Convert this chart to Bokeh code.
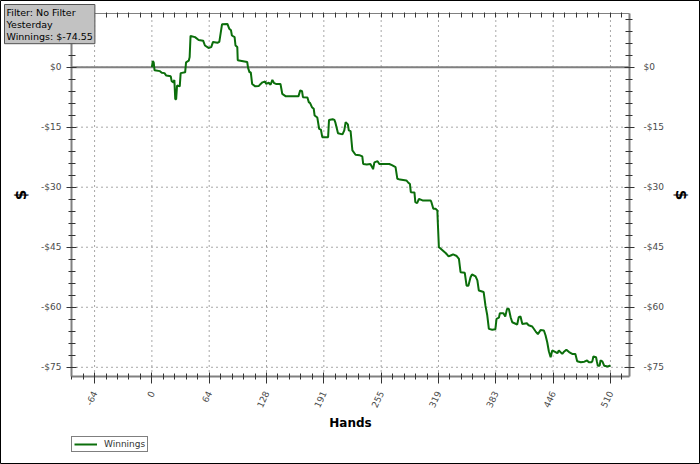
import math
from bokeh.plotting import figure
from bokeh.models import (Range1d, LinearAxis, FixedTicker, Label, Legend, LegendItem)
from bokeh.embed import file_html
from bokeh.resources import INLINE

# ---- data ----
hands = [0, 1, 2, 3, 9, 11, 14, 16, 21, 22, 24, 25, 26, 27, 28, 31, 32, 37, 38, 41,
         42, 43, 48, 52, 57, 59, 63, 66, 68, 73, 75, 78, 84, 86, 88, 89, 92, 93, 95, 95.5,
         106, 107, 108.6, 110, 111.5, 115, 119, 121, 123, 126, 127, 130, 132, 134, 136, 138, 143, 144, 145, 149,
         163, 165, 167, 168, 173, 174.5, 176, 178, 180, 181, 184, 186, 188, 189.5, 196, 197, 201, 203, 204, 207,
         212, 214, 215.5, 218, 219, 221, 223, 226.5, 231, 232, 234, 235, 239, 243, 245, 246, 247.5, 251, 253, 264,
         267, 271, 273, 276, 283, 285, 287, 288, 292, 293, 295, 297, 301, 310, 311, 313, 315.5, 317.5, 318, 319.2,
         321, 327, 330, 333, 335, 339, 341.5, 343.3, 348, 350, 352, 354.4, 356, 360, 362, 363.6, 369, 371, 373, 374.8,
         378.5, 382, 383.3, 386, 387, 391, 393, 395, 397, 399, 400.8, 406.3, 408, 410, 412, 417, 419, 423, 426.7, 429.3,
         432.3, 436, 437.8, 439.7, 441.5, 443.5, 445.3, 449, 451, 452.6, 456.4, 458, 461, 464, 467.5, 471, 473, 477, 481, 484,
         486, 489, 490, 491, 494, 495, 496, 498, 499, 501, 503, 507, 510]
winnings = [0.0, 1.5, 1.2, -0.8, -1.0, -1.4, -1.5, -2.1, -2.3, -3.5, -3.8, -3.2, -8.0, -8.0, -4.6, -4.8, -1.5, -1.3, 1.2, 1.6,
            2.5, 7.8, 7.5, 6.8, 6.6, 5.4, 4.8, 5.0, 6.3, 6.1, 6.3, 10.7, 10.8, 9.6, 9.2, 7.9, 7.5, 5.4, 5.0, 1.7,
            1.3, -0.2, -1.3, -1.3, -4.2, -4.8, -4.7, -4.2, -3.8, -3.6, -4.2, -3.9, -4.4, -3.2, -4.0, -4.2, -4.2, -5.4, -6.7, -7.3,
            -7.3, -5.8, -6.0, -7.5, -7.6, -8.75, -9.0, -10.0, -10.4, -12.1, -12.6, -15.4, -15.6, -17.5, -17.5, -13.2, -13.0, -13.2, -13.8, -16.5,
            -16.8, -15.8, -13.75, -14.3, -15.8, -16.0, -20.8, -21.9, -22.0, -22.1, -22.3, -24.2, -24.3, -24.2, -25.0, -25.5, -23.8, -23.5, -24.2, -24.2,
            -24.5, -25.0, -27.9, -28.1, -28.3, -28.8, -29.2, -31.25, -31.3, -33.75, -34.0, -32.9, -33.3, -33.3, -33.8, -35.4, -35.4, -35.8, -38.75, -45.0,
            -45.3, -46.5, -47.3, -47.0, -46.8, -47.2, -47.9, -51.25, -51.4, -54.6, -54.6, -52.5, -51.8, -52.3, -53.3, -55.8, -56.2, -59.6, -62.0, -65.4,
            -65.6, -65.5, -62.9, -62.6, -61.5, -61.5, -62.3, -60.4, -60.4, -62.5, -63.75, -64.3, -62.5, -62.3, -64.2, -64.0, -64.5, -64.8, -66.0, -66.7,
            -65.7, -65.8, -67.0, -68.75, -71.0, -72.5, -70.8, -71.2, -71.5, -70.8, -71.65, -71.2, -70.6, -71.2, -71.65, -71.7, -73.5, -73.75, -73.6, -73.3,
            -73.75, -73.75, -73.4, -72.3, -72.5, -73.6, -74.6, -74.6, -73.3, -73.5, -74.6, -74.8, -74.55]

x_tick_values = [-63.75, 0, 63.75, 127.5, 191.25, 255, 318.75, 382.5, 446.25, 510]
x_tick_labels = ["-64", "0", "64", "128", "191", "255", "319", "383", "446", "510"]
x_minor_values = [-89.25, -76.5, -51.0, -38.25, -25.5, -12.75, 12.75, 25.5, 38.25, 51.0,
                  76.5, 89.25, 102.0, 114.75, 140.25, 153.0, 165.75, 178.5, 204.0, 216.75,
                  229.5, 242.25, 267.75, 280.5, 293.25, 306.0, 331.5, 344.25, 357.0, 369.75,
                  395.25, 408.0, 420.75, 433.5, 459.0, 471.75, 484.5, 497.25, 522.75]
y_tick_values = [0, -15, -30, -45, -60, -75]
y_tick_labels = ["$0", "-$15", "-$30", "-$45", "-$60", "-$75"]
y_minor_values = [12, 9, 6, 3, -3, -6, -9, -12, -18, -21, -24, -27, -33, -36, -39, -42,
                  -48, -51, -54, -57, -63, -66, -69, -72]

info_lines = ["Filter: No Filter", "Yesterday", "Winnings: $-74.55"]
series_name = "Winnings"

# visible plot area (data units) and its pixel box on the 700x464 canvas
VIS_X = (-89.4, 531.2)
VIS_Y = (-77.3, 13.4)
W, H = 700, 464
BOX_L, BOX_R, BOX_T, BOX_B = 71, 629, 13, 376

sx = (BOX_R - BOX_L) / (VIS_X[1] - VIS_X[0])
sy = (BOX_B - BOX_T) / (VIS_Y[1] - VIS_Y[0])
x_lo = VIS_X[0] - BOX_L / sx
x_hi = VIS_X[1] + (W - BOX_R) / sx
y_hi = VIS_Y[1] + BOX_T / sy
y_lo = VIS_Y[0] - (H - BOX_B) / sy

FONT = "DejaVu Sans"
LABEL_COLOR = "#4a4a4a"

p = figure(width=W, height=H, x_range=Range1d(x_lo, x_hi), y_range=Range1d(y_lo, y_hi),
           output_backend="svg", toolbar_location=None,
           x_axis_location=None, y_axis_location=None,
           min_border=0, min_border_left=0, min_border_right=0, min_border_top=0, min_border_bottom=0,
           background_fill_color="white", border_fill_color="white")
p.outline_line_color = "black"
p.outline_line_width = 1
for g in p.grid:
    g.visible = False

xt = FixedTicker(ticks=x_tick_values, minor_ticks=x_minor_values)
yt = FixedTicker(ticks=y_tick_values, minor_ticks=y_minor_values)
x_over = {v: s for v, s in zip(x_tick_values, x_tick_labels)}
y_over = {v: s for v, s in zip(y_tick_values, y_tick_labels)}

def make_axis(ticker, loc, bounds, tick_in, tick_out, mtick_in, mtick_out, overrides=None):
    ax = LinearAxis(ticker=ticker, fixed_location=loc, bounds=bounds)
    if overrides is not None:
        ax.major_label_overrides = overrides
    ax.axis_line_color = "#808080"
    ax.axis_line_width = 2
    ax.major_tick_line_color = "#333333"
    ax.minor_tick_line_color = "#333333"
    ax.major_tick_in = tick_in
    ax.major_tick_out = tick_out
    ax.minor_tick_in = mtick_in
    ax.minor_tick_out = mtick_out
    ax.major_label_text_font = FONT
    ax.major_label_text_font_size = "9px"
    ax.major_label_text_color = LABEL_COLOR
    ax.axis_label_text_font = FONT
    ax.axis_label_text_font_style = "bold"
    ax.axis_label_text_color = "#000000"
    return ax

# dotted grid (drawn first, under everything)
nx, ny = len(x_tick_values), len(y_tick_values)
p.segment(x0=x_tick_values, x1=x_tick_values, y0=[VIS_Y[0]] * nx, y1=[VIS_Y[1]] * nx,
          line_color="#505050", line_dash="1 4", line_width=1)
p.segment(x0=[VIS_X[0]] * ny, x1=[VIS_X[1]] * ny, y0=y_tick_values, y1=y_tick_values,
          line_color="#505050", line_dash="1 4", line_width=1)
# zero line
p.segment(x0=[VIS_X[0]], x1=[VIS_X[1]], y0=[0], y1=[0], line_color="#808080", line_width=2)

r = p.line(hands, winnings, line_color="#0b6e0b", line_width=2)

# bottom axis
xa = make_axis(xt, VIS_Y[0], VIS_X, 4, 7, 3, 3, x_over)
xa.major_label_orientation = math.radians(65)
xa.major_label_standoff = 8
xa.axis_label = "Hands"
xa.axis_label_text_font_size = "12px"
xa.axis_label_standoff = 3
p.add_layout(xa, "below")

# top axis (tick marks only; labels not painted)
xtop = make_axis(xt, VIS_Y[1], VIS_X, 4, 1, 4, 1)
xtop.axis_line_width = 1
xtop.major_label_text_color = None
p.add_layout(xtop, "above")

# left axis
ya = make_axis(yt, VIS_X[0], VIS_Y, 5, 5, 4, 3, y_over)
ya.major_label_standoff = 5
ya.axis_label = "$"
ya.axis_label_text_font_size = "15px"
ya.axis_label_standoff = 8
p.add_layout(ya, "left")

# right axis
yr = make_axis(yt, VIS_X[1], VIS_Y, 5, 5, 4, 3, y_over)
yr.major_label_standoff = 9
yr.axis_label = "$"
yr.axis_label_text_font_size = "15px"
yr.axis_label_standoff = 5
p.add_layout(yr, "right")

legend = Legend(items=[LegendItem(label=series_name, renderers=[r])],
                location=(BOX_L, H - 452),
                border_line_color="black", border_line_width=1,
                background_fill_color="white", background_fill_alpha=1.0,
                label_text_font=FONT, label_text_font_size="9px", label_text_color="#333333",
                glyph_width=23, glyph_height=10, label_height=10, label_standoff=7,
                padding=2, margin=0, spacing=0)
p.add_layout(legend)

info = Label(x=4, y=H - 4, x_units="screen", y_units="screen",
             text="\n".join(info_lines), text_font=FONT, text_font_size="9.5px",
             text_line_height=1.1,
             text_color="#000000", text_align="left", text_baseline="top",
             background_fill_color="#c2c2c2", background_fill_alpha=1.0,
             border_line_color="#505050", border_line_width=1, padding=2)
p.add_layout(info)

open("out.html", "w").write(file_html(p, INLINE))
